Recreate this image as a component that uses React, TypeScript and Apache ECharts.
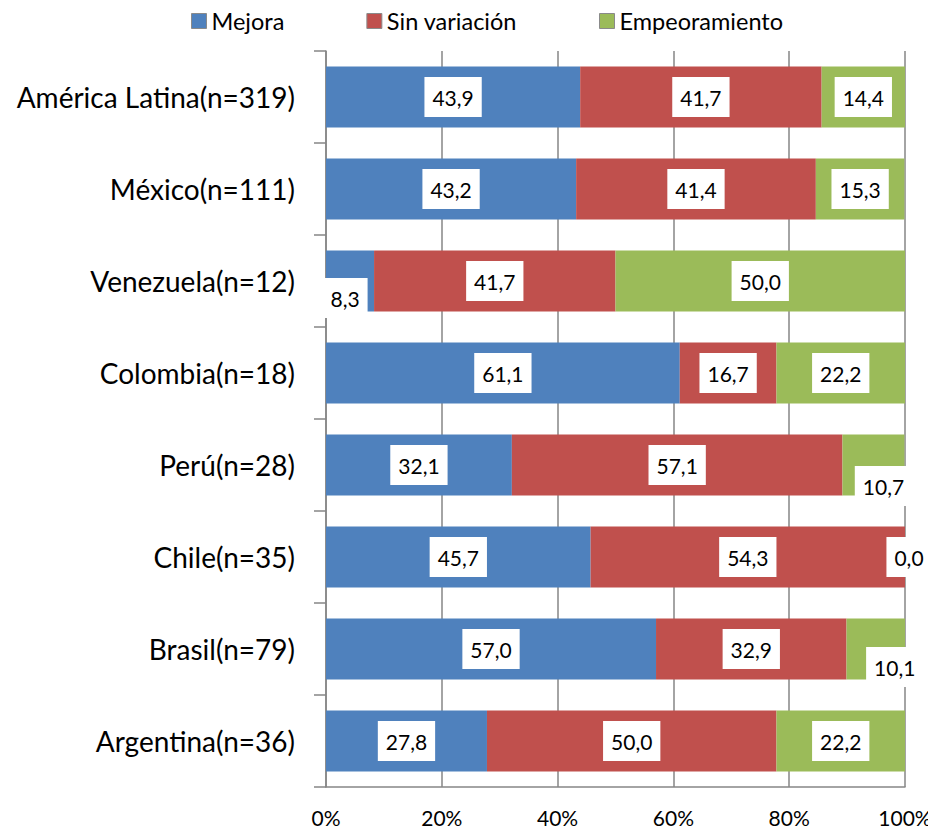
import React, { useEffect, useRef } from "react";
import * as echarts from "echarts";

const categories = [
  "América Latina(n=319)",
  "México(n=111)",
  "Venezuela(n=12)",
  "Colombia(n=18)",
  "Perú(n=28)",
  "Chile(n=35)",
  "Brasil(n=79)",
  "Argentina(n=36)",
];

const seriesNames = ["Mejora", "Sin variación", "Empeoramiento"];

const mejora = [43.9, 43.2, 8.3, 61.1, 32.1, 45.7, 57.0, 27.8];
const sinVariacion = [41.7, 41.4, 41.7, 16.7, 57.1, 54.3, 32.9, 50.0];
const empeoramiento = [14.4, 15.3, 50.0, 22.2, 10.7, 0.0, 10.1, 22.2];

const xTicks = [0, 20, 40, 60, 80, 100];

const colors = ["#4F81BD", "#C0504D", "#9BBB59"];

// label offsets for narrow segments (style only): [seriesIndex][categoryIndex]
const labelOffsets: Record<string, [number, number]> = {
  "0-2": [-5, 17],
  "2-4": [10, 21],
  "2-5": [4, 0],
  "2-6": [19, 18],
};

const FONT = "Lato, 'Open Sans', sans-serif";

function fmt(v: number) {
  return v.toFixed(1).replace(".", ",");
}

export default function App() {
  const ref = useRef<HTMLDivElement>(null);
  useEffect(() => {
    document.body.style.margin = "0";
    if (!ref.current) return;
    const chart = echarts.init(ref.current, undefined, { renderer: "svg" });
    const allValues = [mejora, sinVariacion, empeoramiento];
    const series = allValues.map((vals, si) => ({
      name: seriesNames[si],
      type: "bar",
      stack: "total",
      barWidth: 61,
      itemStyle: { color: colors[si] },
      label: {
        show: true,
        position: "inside",
        formatter: (p: any) => fmt(p.value),
        color: "#000",
        fontFamily: FONT,
        fontSize: 21,
        backgroundColor: "#fff",
        padding: [7, 8, 7, 8],
        lineHeight: 26,
      },
      data: vals.map((v, ci) => {
        const off = labelOffsets[`${si}-${ci}`];
        return off ? { value: v, label: { offset: off } } : { value: v };
      }),
    }));
    chart.setOption({
      animation: false,
      backgroundColor: "#fff",
      color: colors,
      legend: {
        top: 4,
        left: 186,
        itemWidth: 15,
        itemHeight: 15,
        itemGap: 82,
        icon: "rect",
        itemStyle: { borderColor: "#8a8a8a", borderWidth: 1 },
        textStyle: { fontFamily: FONT, fontSize: 23.5, color: "#000" },
        data: seriesNames,
      },
      grid: {
        left: 326,
        right: 23,
        top: 51,
        bottom: 43,
        containLabel: false,
        outerBoundsMode: "none",
      },
      xAxis: {
        type: "value",
        min: xTicks[0],
        max: xTicks[xTicks.length - 1],
        interval: xTicks[1] - xTicks[0],
        axisLine: { show: true, lineStyle: { color: "#868686", width: 1.5 } },
        axisTick: { show: false },
        axisLabel: {
          formatter: "{value}%",
          fontFamily: FONT,
          fontSize: 21,
          color: "#000",
          margin: 20,
        },
        splitLine: { show: true, lineStyle: { color: "#868686", width: 1.5 } },
      },
      yAxis: {
        type: "category",
        inverse: true,
        data: categories,
        axisLine: { show: true, lineStyle: { color: "#868686", width: 1.5 } },
        axisTick: { show: true, length: 12, lineStyle: { color: "#868686", width: 1.5 } },
        axisLabel: {
          fontFamily: FONT,
          fontSize: 28,
          color: "#000",
          margin: 31,
        },
      },
      series,
    });
    return () => chart.dispose();
  }, []);
  return (
    <div
      ref={ref}
      style={{ position: "absolute", left: 0, top: 0, width: 928, height: 830 }}
    />
  );
}
